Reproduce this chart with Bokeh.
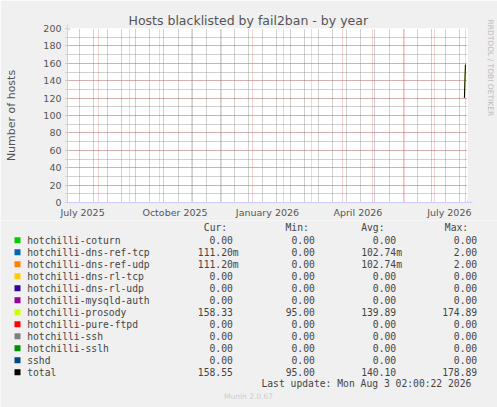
import pandas as pd
from bokeh.plotting import figure
from bokeh.models import (Range1d, FixedTicker, SingleIntervalTicker, Grid, Title,
                          Arrow, NormalHead)
from bokeh.core.properties import value
from bokeh.embed import file_html
from bokeh.resources import INLINE

# ---------------- texts ----------------
TITLE = "Hosts blacklisted by fail2ban - by year"
Y_LABEL = "Number of hosts"
WATERMARK = "RRDTOOL / TOBI OETIKER"
FOOTER = "Munin 2.0.67"
LAST_UPDATE = "Last update: Mon Aug  3 02:00:22 2026"
HEADERS = ["Cur:", "Min:", "Avg:", "Max:"]

# ---------------- axes ----------------
RANGE_START = pd.Timestamp("2025-07-01 00:00:00")
RANGE_END = pd.Timestamp("2026-08-03 02:00:22")
Y_MAX = 200
X_TICK_MONTHS = ["2025-07-01", "2025-10-01", "2026-01-01", "2026-04-01", "2026-07-01"]
X_TICK_LABELS = ["July 2025", "October 2025", "January 2026", "April 2026", "July 2026"]

# ---------------- series ----------------
names = ["hotchilli-coturn", "hotchilli-dns-ref-tcp", "hotchilli-dns-ref-udp",
         "hotchilli-dns-rl-tcp", "hotchilli-dns-rl-udp", "hotchilli-mysqld-auth",
         "hotchilli-prosody", "hotchilli-pure-ftpd", "hotchilli-ssh", "hotchilli-sslh",
         "sshd", "total"]
colors = ["#00CC00", "#0066B3", "#FF8000", "#FFCC00", "#330099", "#990099",
          "#CCFF00", "#FF0000", "#808080", "#008F00", "#00487D", "#000000"]

dates = ["2026-07-31", "2026-08-01"]
coturn = [0.0, 0.0]
dns_ref_tcp = [0.09, 0.11]
dns_ref_udp = [0.09, 0.11]
dns_rl_tcp = [0.0, 0.0]
dns_rl_udp = [0.0, 0.0]
mysqld_auth = [0.0, 0.0]
prosody = [120.1, 158.3]
pure_ftpd = [0.0, 0.0]
ssh = [0.0, 0.0]
sslh = [0.0, 0.0]
sshd = [0.0, 0.0]
total = [120.3, 158.55]

cur_vals = [0.0, 0.1112, 0.1112, 0.0, 0.0, 0.0, 158.33, 0.0, 0.0, 0.0, 0.0, 158.55]
min_vals = [0.0, 0.0, 0.0, 0.0, 0.0, 0.0, 95.0, 0.0, 0.0, 0.0, 0.0, 95.0]
avg_vals = [0.0, 0.10274, 0.10274, 0.0, 0.0, 0.0, 139.89, 0.0, 0.0, 0.0, 0.0, 140.10]
max_vals = [0.0, 2.0, 2.0, 0.0, 0.0, 0.0, 174.89, 0.0, 0.0, 0.0, 0.0, 178.89]

series = [coturn, dns_ref_tcp, dns_ref_udp, dns_rl_tcp, dns_rl_udp, mysqld_auth,
          prosody, pure_ftpd, ssh, sslh, sshd, total]

BG = "#F0F0F0"
TXT = "#555555"
LEG_TXT = "#444444"
MONO = value("DejaVu Sans Mono")
FS = "9.7px"

# ---------------- layout (pixels) ----------------
W = 497
H1, H2 = 220, 187
FL, FT, FW, FH = 67, 28, 400, 175


def to_days(ts):
    return (pd.Timestamp(ts) - RANGE_START) / pd.Timedelta(days=1)


x_end = to_days(RANGE_END)
xs = [to_days(d) for d in dates]


def dx(px):
    return (px - FL) / FW * x_end


def dy(py):
    return (FT + FH - py) / FH * Y_MAX


p = figure(width=W, height=H1, x_range=Range1d(0, x_end), y_range=Range1d(0, Y_MAX),
           output_backend="svg", toolbar_location=None,
           min_border_left=FL, min_border_right=W - FL - FW,
           min_border_top=FT, min_border_bottom=H1 - FT - FH)
p.background_fill_color = "white"
p.border_fill_color = BG
p.outline_line_color = None

# title
p.title.text = TITLE
p.title.align = "left"
p.title.offset = 61
p.title.text_font = "DejaVu Sans"
p.title.text_font_size = "12.5px"
p.title.text_font_style = "normal"
p.title.text_color = TXT
p.title.standoff = 2

# watermark on the right (spacer title keeps it away from the plot area)
p.add_layout(Title(text=" ", text_font_size="12px", standoff=0, text_color=BG), "right")
p.add_layout(Title(text=WATERMARK, align="left", offset=-9, text_font="DejaVu Sans",
                   text_font_size="7.5px", text_font_style="normal", text_color="#BBBBBB",
                   vertical_align="top", standoff=0), "right")

# grids
GRID_RED, GRID_GRAY = "#E05050", "#808080"
RED_A, GRAY_A = 0.5, 0.75
month_starts = pd.date_range("2025-07-01", "2026-08-01", freq="MS")
biweekly = pd.date_range("2025-07-13", RANGE_END, freq="14D")
p.xgrid.visible = False
p.add_layout(Grid(dimension=0, ticker=FixedTicker(ticks=[to_days(d) for d in biweekly]),
                  grid_line_color=GRID_GRAY, grid_line_alpha=GRAY_A, grid_line_dash="1 1"))
p.add_layout(Grid(dimension=0, ticker=FixedTicker(ticks=[to_days(d) for d in month_starts]),
                  grid_line_color=GRID_RED, grid_line_alpha=RED_A, grid_line_dash="1 1"))

p.yaxis.ticker = SingleIntervalTicker(interval=20, num_minor_ticks=2)
p.ygrid.grid_line_color = GRID_RED
p.ygrid.grid_line_alpha = RED_A
p.ygrid.grid_line_dash = "1 1"
p.ygrid.minor_grid_line_color = GRID_GRAY
p.ygrid.minor_grid_line_alpha = GRAY_A
p.ygrid.minor_grid_line_dash = "1 1"

# axes
label_pos = [int(to_days(m)) + 15 for m in X_TICK_MONTHS]
p.xaxis.ticker = FixedTicker(ticks=label_pos, minor_ticks=[])
p.xaxis.major_label_overrides = {k: lab for k, lab in zip(label_pos, X_TICK_LABELS)}
p.xaxis.major_tick_line_color = None
p.xaxis.major_tick_out = 0
p.xaxis.minor_tick_line_color = None
p.xaxis.major_label_standoff = 4

for ax in (p.xaxis[0], p.yaxis[0]):
    ax.axis_line_color = "#CCCCFF"
    ax.major_label_text_font = "DejaVu Sans"
    ax.major_label_text_font_size = "9.5px"
    ax.major_label_text_color = TXT

p.yaxis.major_tick_line_color = "#AAAAAA"
p.yaxis.major_tick_out = 2
p.yaxis.major_tick_in = 0
p.yaxis.minor_tick_line_color = "#CCCCCC"
p.yaxis.minor_tick_out = 2
p.yaxis.minor_tick_in = 0
p.yaxis.major_label_standoff = 4
p.yaxis.axis_label = Y_LABEL
p.yaxis.axis_label_text_font = "DejaVu Sans"
p.yaxis.axis_label_text_font_size = "11px"
p.yaxis.axis_label_text_font_style = "normal"
p.yaxis.axis_label_text_color = TXT
p.yaxis.axis_label_standoff = 22

# axis arrows
AX = "#CCCCFF"
p.add_layout(Arrow(end=NormalHead(size=5, fill_color=AX, line_color=AX),
                   x_start=0, y_start=Y_MAX - 1, x_end=0, y_end=dy(FT - 4),
                   line_color=AX))
p.add_layout(Arrow(end=NormalHead(size=5, fill_color=AX, line_color=AX),
                   x_start=x_end - 1, y_start=0, x_end=dx(FL + FW + 5), y_end=0,
                   line_color=AX))

# data lines
for vals, col in zip(series, colors):
    p.line(x=xs, y=vals, line_color=col, line_width=1)

# ---------------- legend table (second root, pixel coordinates) ----------------
TOP2 = H1
q = figure(width=W, height=H2, x_range=Range1d(0, W), y_range=Range1d(H2, 0),
           output_backend="svg", toolbar_location=None, min_border=0)
q.axis.visible = False
q.grid.visible = False
q.outline_line_color = None
q.background_fill_color = BG
q.border_fill_color = BG

ROW0, ROW_H = 239.7 - TOP2, 12
rows = [ROW0 + ROW_H * i for i in range(len(names))]

q.rect(x=[17] * len(names), y=rows, width=6, height=6, fill_color=colors, line_color=None)


def add_texts(xpx, ypx, texts, align, font=MONO, size=FS, color=LEG_TXT):
    q.text(x=xpx, y=ypx, text=texts, text_font=font, text_font_size=size,
           text_color=color, text_align=align, text_baseline="middle")


add_texts([26.7] * len(names), rows, names, "left")


def fmt(v):
    if v != 0 and abs(v) < 1:
        return f"{v * 1000:.2f}", "m"
    return f"{v:.2f}", ""


col_right = [232.3, 314.3, 395.7, 476.7]
head_left = [203.3, 285.0, 360.7, 444.3]
HEAD_Y = 227.3 - TOP2
for vals, xr in zip([cur_vals, min_vals, avg_vals, max_vals], col_right):
    nums = [fmt(v)[0] for v in vals]
    sufs = [fmt(v)[1] for v in vals]
    add_texts([xr] * len(vals), rows, nums, "right")
    add_texts([xr] * len(vals), rows, sufs, "left")
add_texts(head_left, [HEAD_Y] * 4, HEADERS, "left")
add_texts([col_right[3]], [ROW0 + ROW_H * len(names) - 0.4], [LAST_UPDATE], "right")
add_texts([248], [396 - TOP2], [FOOTER], "center", font=value("DejaVu Sans"),
          size="7.5px", color="#CCCCCC")

html = file_html([p, q], INLINE)
open("out.html", "w").write(html)
